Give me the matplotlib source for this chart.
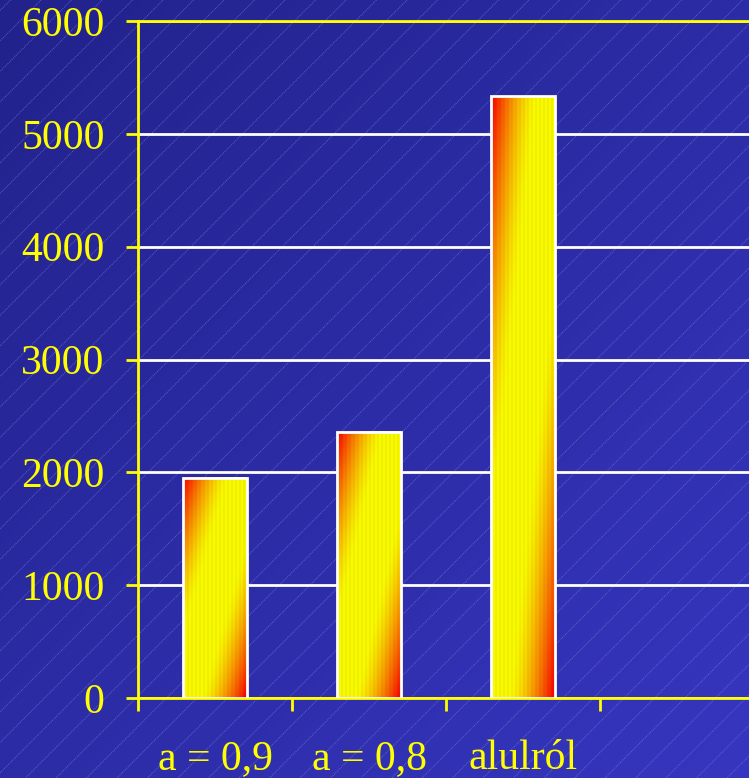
import numpy as np
import matplotlib
matplotlib.use("Agg")
import matplotlib.pyplot as plt
from matplotlib.transforms import offset_copy

categories = ["a = 0,9", "a = 0,8", "alulról"]
values = [1950, 2360, 5335]
yticks = [0, 1000, 2000, 3000, 4000, 5000, 6000]

YELLOW = "#ffff00"
plt.rcParams['font.family'] = ['Liberation Serif', 'DejaVu Serif']

W, H = 749, 778
fig = plt.figure(figsize=(W / 100, H / 100), dpi=100)

# background: blue gradient with faint diagonal lines
bg = fig.add_axes([0, 0, 1, 1])
yy, xx = np.mgrid[0:H, 0:W]
s = (xx / W + yy / H) / 2
c0 = np.array([0x22, 0x22, 0x8c]) / 255
c1 = np.array([0x36, 0x36, 0xc0]) / 255
bg.imshow(c0 + (c1 - c0) * s[..., None], extent=[0, W, H, 0], aspect='auto')
for c in np.arange(-20, W + H + 40, 30.5):
    bg.plot([c, c - H - 10], [0, H + 10], color="#8a8ae8", lw=0.7,
            alpha=0.55, ls=(0, (1, 1)))
bg.set_xlim(0, W)
bg.set_ylim(H, 0)
bg.axis("off")

ax = fig.add_axes([138 / W, 80 / H, 616 / W, 677 / H])
ax.set_facecolor("none")

x = np.arange(len(values)) + 0.5
bw = 0.41
bars = ax.bar(x, values, bw, color="none", edgecolor="white", lw=2, zorder=4)


def bar_gradient(nrow=300, ncol=32):
    v = np.linspace(0, 1, nrow)[:, None]
    u = np.linspace(0, 1, ncol)[None, :]
    t = np.abs(u + v - 1)
    g = 1 - np.clip((t - 0.3) / 0.7, 0, 1) ** 1.4
    img = np.stack([np.ones_like(g), g, np.zeros_like(g)], -1)
    # fine vertical texture
    img = img * (1 - 0.08 * (np.arange(ncol) % 2 == 0))[None, :, None]
    return img


grad = bar_gradient()
shadow_tr = offset_copy(ax.transData, fig=fig, x=3, y=-1, units='dots')
for b in bars:
    x0, x1 = b.get_x(), b.get_x() + b.get_width()
    h = b.get_height()
    sh = ax.imshow(grad, extent=[x0, x1, 0, h], aspect='auto', zorder=2.5,
                   interpolation='bilinear')
    sh.set_transform(shadow_tr + ax.transData.inverted() + ax.transData)
    ax.imshow(grad, extent=[x0, x1, 0, h], aspect='auto', zorder=3,
              interpolation='bilinear')

ax.set_xlim(0, 4)
ax.set_ylim(0, 6000)
ax.set_yticks(yticks)
ax.set_xticks(range(5))
ax.set_xticklabels([])
ax.set_xticks(x, minor=True)
ax.set_xticklabels(categories, minor=True)
ax.yaxis.grid(True, color="white", lw=2)
ax.set_axisbelow(True)
ax.tick_params(axis='both', colors=YELLOW, width=2, length=9, direction='out')
ax.tick_params(axis='y', labelsize=30, pad=15, labelcolor=YELLOW)
ax.tick_params(axis='x', which='minor', length=0, labelsize=30, pad=30,
               labelcolor=YELLOW)
for side in ["left", "bottom", "top"]:
    ax.spines[side].set_color(YELLOW)
    ax.spines[side].set_linewidth(2)
ax.spines["right"].set_visible(False)

fig.savefig("out.png", dpi=100)
